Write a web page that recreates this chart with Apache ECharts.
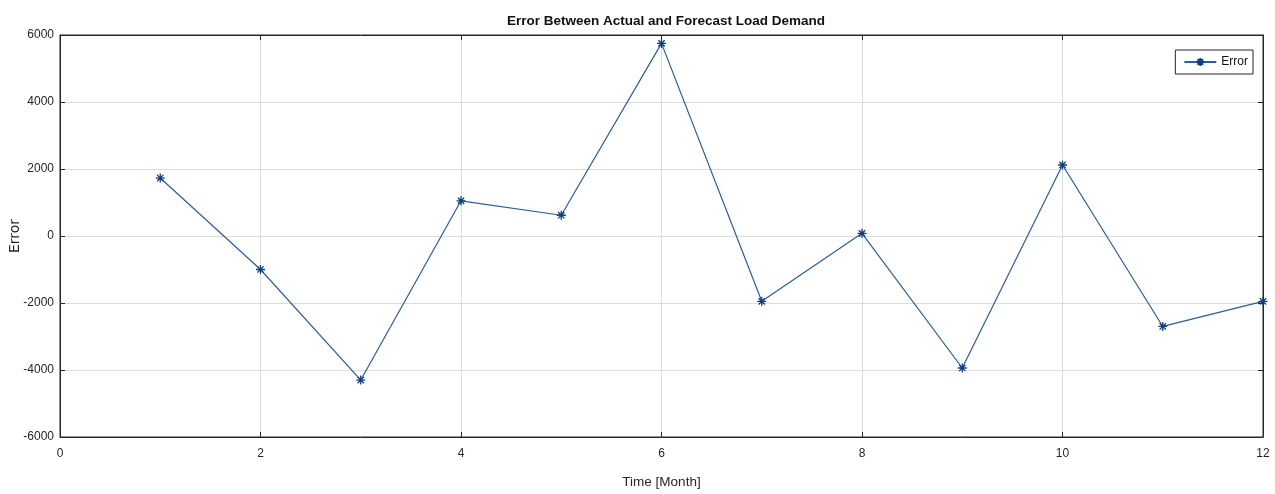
<!DOCTYPE html>
<html><head><meta charset="utf-8">
<script src="https://cdn.jsdelivr.net/npm/echarts@6/dist/echarts.min.js"></script>
<style>html,body{margin:0;padding:0;background:#fff}#c{width:1275px;height:494px}</style>
</head><body><div id="c"></div>
<script>
const months = [1,2,3,4,5,6,7,8,9,10,11,12];
const errorValues = [1730,-1000,-4300,1050,620,5750,-1950,80,-3940,2120,-2700,-1950];
const xTicks = [0,2,4,6,8,10,12];
const yTicks = [-6000,-4000,-2000,0,2000,4000,6000];
const F = '"Liberation Sans",Arial,sans-serif';
const star = 'path://M0,-10L0,10M-10,0L10,0M-7,-7L7,7M-7,7L7,-7';
const chart = echarts.init(document.getElementById('c'));
const lineC = '#262626';
const axCommon = {
  axisLine:{show:true,onZero:false,lineStyle:{color:lineC,width:1}},
  axisTick:{show:true,inside:true,length:5,lineStyle:{color:lineC}},
};
const lbl = {color:'#262626',fontFamily:F,fontSize:12,formatter:v=>String(v)};
chart.setOption({
  animation:false,
  title:{text:'Error Between Actual and Forecast Load Demand',left:661,textAlign:'center',top:9,
    textStyle:{fontFamily:F,fontSize:13.5,fontWeight:'bold',color:'#111'}},
  grid:{left:60,right:12,top:35,bottom:57,outerBoundsMode:'none',containLabel:false,
    show:true,borderColor:lineC,borderWidth:1},
  legend:{data:['Error'],right:22,top:50,orient:'vertical',backgroundColor:'#fff',
    borderColor:lineC,borderWidth:1,padding:[6,5,6,8],itemWidth:32,itemHeight:10,itemGap:0,
    textStyle:{fontFamily:F,fontSize:12,color:'#111'}},
  xAxis:[
    Object.assign({type:'value',min:0,max:12,interval:2,position:'bottom',
      name:'Time [Month]',nameLocation:'middle',nameGap:38,nameMoveOverlap:false,
      nameTextStyle:{fontFamily:F,fontSize:13.5,color:'#262626'},
      splitLine:{show:true,lineStyle:{color:'#dcdcdc'}},
      axisLabel:Object.assign({},lbl,{margin:11})},axCommon),
    Object.assign({type:'value',min:0,max:12,interval:2,position:'top',splitLine:{show:false},axisLabel:{show:false}},axCommon)
  ],
  yAxis:[
    Object.assign({type:'value',min:-6000,max:6000,interval:2000,position:'left',
      name:'Error',nameLocation:'middle',nameGap:38,nameMoveOverlap:false,
      nameTextStyle:{fontFamily:'"DejaVu Sans",sans-serif',fontSize:14,color:'#262626'},
      splitLine:{show:true,lineStyle:{color:'#dcdcdc'}},
      axisLabel:Object.assign({},lbl,{margin:6})},axCommon),
    Object.assign({type:'value',min:-6000,max:6000,interval:2000,position:'right',splitLine:{show:false},axisLabel:{show:false}},axCommon)
  ],
  series:[{
    name:'Error',type:'line',
    data:months.map((m,i)=>[m,errorValues[i]]),
    symbol:star,symbolSize:9,showSymbol:true,
    lineStyle:{color:'#2a5d9a',width:1.2},
    itemStyle:{color:'#0f3f80',borderColor:'#0f3f80',borderWidth:1.3},
    clip:false
  }]
});
</script></body></html>
